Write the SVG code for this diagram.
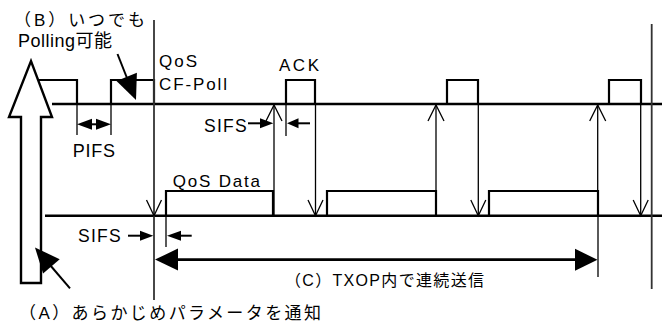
<svg xmlns="http://www.w3.org/2000/svg" width="662" height="322" viewBox="0 0 662 322">
<defs>
<style>
.t{font-family:"Liberation Sans","Noto Sans CJK JP",sans-serif;fill:#000;}
.f{fill:none;stroke:#000;stroke-width:2.2;stroke-linejoin:miter;}
.ln{fill:none;stroke:#000;stroke-width:2.4;}
.th{fill:none;stroke:#000;stroke-width:1.3;}
.vl{fill:none;stroke:#333;stroke-width:1.8;}
.sh{fill:none;stroke:#000;stroke-width:2;}
.hd{fill:#000;stroke:none;}
</style>
</defs>
<rect width="662" height="322" fill="#fff"/>

<g id="frames">
  <polyline class="f" points="30,80 77,80 77,104"/>
  <polyline class="f" points="111,104 111,80 154,80 154,104"/>
  <polyline class="f" points="286,104 286,80 315,80 315,104"/>
  <polyline class="f" points="447,104 447,80 478,80 478,104"/>
  <polyline class="f" points="609,104 609,80 641,80 641,104"/>
  <polyline class="f" points="166,215.7 166,191 273,191 273,215.7"/>
  <polyline class="f" points="327,215.7 327,191 436,191 436,215.7"/>
  <polyline class="f" points="489,215.7 489,191 598,191 598,215.7"/>
</g>

<g id="timelines">
  <line class="ln" x1="52" y1="104" x2="662" y2="104"/>
  <line class="ln" x1="45" y1="215.7" x2="662" y2="215.7"/>
  <line class="vl" x1="154" y1="20" x2="154" y2="300"/>
  <line class="vl" x1="651.7" y1="24" x2="651.7" y2="289"/>
</g>

<g id="big-arrow">
  <polygon points="21,283 21,117 9,117 31,61 52,117 41,117 41,283" fill="#fff" stroke="#000" stroke-width="2.4" stroke-linejoin="miter"/>
</g>

<g id="connectors">
  <!-- ticks -->
  <line class="th" x1="77" y1="104" x2="77" y2="135"/>
  <line class="th" x1="111" y1="104" x2="111" y2="135"/>
  <line class="th" x1="286" y1="104" x2="286" y2="136"/>
  <line class="th" x1="166" y1="215.7" x2="166" y2="247"/>
  <line class="th" x1="598" y1="215.7" x2="598" y2="277"/>
  <!-- down arrows (ACK end -> lower line) -->
  <line class="th" x1="315.5" y1="104" x2="315.5" y2="215"/>
  <polyline class="th" points="308,200 315.5,215.7 323,200"/>
  <line class="th" x1="478.3" y1="104" x2="478.3" y2="215"/>
  <polyline class="th" points="470.8,200 478.3,215.7 485.8,200"/>
  <line class="th" x1="640.7" y1="104" x2="640.7" y2="215"/>
  <polyline class="th" points="633.2,200 640.7,215.7 648.2,200"/>
  <polyline class="th" points="146.5,200 154,215.7 161.5,200"/>
  <!-- up arrows (data end -> upper line) -->
  <line class="th" x1="274" y1="215.7" x2="274" y2="105"/>
  <polyline class="th" points="266,121 274,105 282,121"/>
  <line class="th" x1="436" y1="215.7" x2="436" y2="105"/>
  <polyline class="th" points="428,121 436,105 444,121"/>
  <line class="th" x1="597.7" y1="215.7" x2="597.7" y2="105"/>
  <polyline class="th" points="589.7,121 597.7,105 605.7,121"/>

  <!-- PIFS double arrow -->
  <line class="sh" x1="88" y1="124.3" x2="100" y2="124.3"/>
  <polygon class="hd" points="77,124.3 92,118.8 92,129.8"/>
  <polygon class="hd" points="111,124.3 96,118.8 96,129.8"/>

  <!-- upper SIFS -->
  <line class="sh" x1="248" y1="123.3" x2="262" y2="123.3"/>
  <polygon class="hd" points="273.3,123.3 260,118.3 260,128.3"/>
  <line class="sh" x1="296" y1="123.3" x2="310" y2="123.3"/>
  <polygon class="hd" points="287,123.3 298.5,118.3 298.5,128.3"/>

  <!-- lower SIFS -->
  <line class="sh" x1="128" y1="235.7" x2="142" y2="235.7"/>
  <polygon class="hd" points="153.3,235.7 140,230.7 140,240.7"/>
  <line class="sh" x1="179" y1="235.7" x2="191.7" y2="235.7"/>
  <polygon class="hd" points="167,235.7 181,230.7 181,240.7"/>

  <!-- TXOP span -->
  <line x1="175" y1="259.6" x2="578" y2="259.6" stroke="#000" stroke-width="2.6"/>
  <polygon class="hd" points="155,259.6 178,248.6 178,270.6"/>
  <polygon class="hd" points="597.5,259.8 575,248.8 575,270.8"/>

  <!-- (A) pointer -->
  <line class="sh" x1="70" y1="288.3" x2="50" y2="265"/>
  <polygon class="hd" points="35,247.5 59.7,259.2 43.1,273.6"/>
  <!-- (B) pointer -->
  <line class="sh" x1="117.5" y1="54" x2="127" y2="78"/>
  <polygon class="hd" points="136,100 136.9,72.7 116.5,80.9"/>
</g>

<g id="labels">
  <text class="t" x="14" y="26" font-size="17" textLength="131" lengthAdjust="spacing">（B）いつでも</text>
  <text class="t" x="18" y="47" font-size="18" textLength="94" lengthAdjust="spacing">Polling可能</text>
  <text class="t" x="159" y="67" font-size="17" textLength="38" lengthAdjust="spacing">QoS</text>
  <text class="t" x="159" y="90" font-size="17" textLength="68" lengthAdjust="spacing">CF-Poll</text>
  <text class="t" x="279" y="71" font-size="17" textLength="40" lengthAdjust="spacing">ACK</text>
  <text class="t" x="72.7" y="156.7" font-size="18" textLength="42.3" lengthAdjust="spacing">PIFS</text>
  <text class="t" x="204" y="131.7" font-size="17.5" textLength="42.7" lengthAdjust="spacing">SIFS</text>
  <text class="t" x="172.7" y="186.7" font-size="17" textLength="87.3" lengthAdjust="spacing">QoS Data</text>
  <text class="t" x="78" y="242.3" font-size="17.5" textLength="42.7" lengthAdjust="spacing">SIFS</text>
  <text class="t" x="285" y="286" font-size="16" textLength="199" lengthAdjust="spacing">（C）TXOP内で連続送信</text>
  <text class="t" x="19" y="319" font-size="17" textLength="302" lengthAdjust="spacing">（A）あらかじめパラメータを通知</text>
</g>
</svg>
